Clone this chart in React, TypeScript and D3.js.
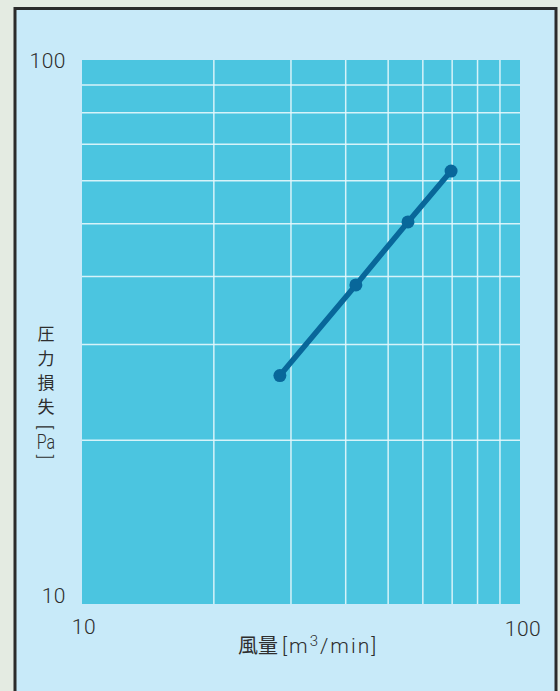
import { useEffect, useRef } from 'react';
import * as d3 from 'd3';

// Air flow [m3/min] vs pressure loss [Pa]
const airFlow = [28.3, 42.2, 55.5, 69.6];
const pressureLoss = [26.3, 38.6, 50.4, 62.5];
const gridValues = [20, 30, 40, 50, 60, 70, 80, 90];
const tickLabels = ['10', '100'];

export default function App() {
  const svgRef = useRef<SVGSVGElement>(null);

  useEffect(() => {
    if (!svgRef.current) return;
    const svg = d3.select(svgRef.current);
    svg.selectAll('*').remove();

    const width = 560;
    const height = 691;
    const plot = { left: 82, right: 520, top: 60, bottom: 604 };
    const cjk = "'Noto Sans CJK JP', 'Noto Sans', sans-serif";
    const latin = "Roboto, 'Noto Sans', sans-serif";

    svg.append('rect').attr('width', width).attr('height', height).attr('fill', '#e4ebe2');
    svg.append('rect')
      .attr('x', 15).attr('y', 8.5).attr('width', 541).attr('height', 700)
      .attr('fill', '#c8eaf9').attr('stroke', '#2b2b2b').attr('stroke-width', 3);

    const x = d3.scaleLog().domain([10, 100]).range([plot.left, plot.right]);
    const y = d3.scaleLog().domain([10, 100]).range([plot.bottom, plot.top]);

    svg.append('rect')
      .attr('x', plot.left).attr('y', plot.top)
      .attr('width', plot.right - plot.left).attr('height', plot.bottom - plot.top)
      .attr('fill', '#4bc5e0');

    const grid = svg.append('g').attr('stroke', '#e6f7fc').attr('stroke-width', 1.5).attr('stroke-opacity', 0.9);
    grid.selectAll('.gx').data(gridValues).enter().append('line')
      .attr('x1', d => x(d)).attr('x2', d => x(d))
      .attr('y1', plot.top).attr('y2', plot.bottom);
    grid.selectAll('.gy').data(gridValues).enter().append('line')
      .attr('y1', d => y(d)).attr('y2', d => y(d))
      .attr('x1', plot.left).attr('x2', plot.right);

    const pts = airFlow.map((v, i) => [x(v), y(pressureLoss[i])] as [number, number]);
    svg.append('path')
      .attr('d', d3.line()(pts))
      .attr('fill', 'none').attr('stroke', '#08679a').attr('stroke-width', 5.5);
    svg.selectAll('.pt').data(pts).enter().append('circle')
      .attr('cx', d => d[0]).attr('cy', d => d[1]).attr('r', 6.5).attr('fill', '#08679a');

    const txt = svg.append('g').attr('fill', '#2e2e2e').attr('font-family', latin)
      .attr('font-weight', 300).attr('font-size', 21).attr('letter-spacing', 0.5);
    // y tick labels
    txt.append('text').attr('x', 66).attr('y', y(100)).attr('dy', '0.36em').attr('text-anchor', 'end').text(tickLabels[1]);
    txt.append('text').attr('x', 66).attr('y', y(10) - 9).attr('dy', '0.36em').attr('text-anchor', 'end').text(tickLabels[0]);
    // x tick labels
    txt.append('text').attr('x', x(10) + 2).attr('y', 626).attr('dy', '0.36em').attr('text-anchor', 'middle').text(tickLabels[0]);
    txt.append('text').attr('x', x(100) + 3).attr('y', 628).attr('dy', '0.36em').attr('text-anchor', 'middle').text(tickLabels[1]);

    // x title
    svg.append('text').attr('x', 238).attr('y', 653).attr('fill', '#2e2e2e')
      .attr('font-family', cjk).attr('font-size', 20).text('風量');
    const xt = svg.append('text').attr('x', 282).attr('y', 653).attr('fill', '#2e2e2e')
      .attr('font-family', latin).attr('font-weight', 300).attr('font-size', 21).attr('letter-spacing', 2);
    xt.append('tspan').text('[m');
    xt.append('tspan').attr('dy', -7).attr('font-size', 15).text('3');
    xt.append('tspan').attr('dy', 7).text('/min]');

    // y title (vertical)
    const yt = svg.append('g').attr('fill', '#2e2e2e').attr('font-family', cjk).attr('font-size', 17).attr('text-anchor', 'middle');
    const chars = [['圧', 334], ['力', 359], ['損', 383], ['失', 407]] as [string, number][];
    chars.forEach(([c, cy]) => {
      yt.append('text').attr('x', 46).attr('y', cy).attr('dy', '0.36em').text(c);
    });
    yt.append('text').attr('transform', 'translate(46,427) rotate(90)').attr('dy', '0.36em').attr('font-family', latin).attr('font-weight', 300).attr('font-size', 19).text('[');
    yt.append('text').attr('transform', 'translate(46,442) scale(0.8,1)').attr('dy', '0.36em')
      .attr('font-family', latin).attr('font-weight', 300).attr('font-size', 20).text('Pa');
    yt.append('text').attr('transform', 'translate(46,457) rotate(90)').attr('dy', '0.36em').attr('font-family', latin).attr('font-weight', 300).attr('font-size', 19).text(']');
  }, []);

  return <svg ref={svgRef} width={560} height={691} style={{ display: 'block', position: 'absolute', left: 0, top: 0 }} />;
}
